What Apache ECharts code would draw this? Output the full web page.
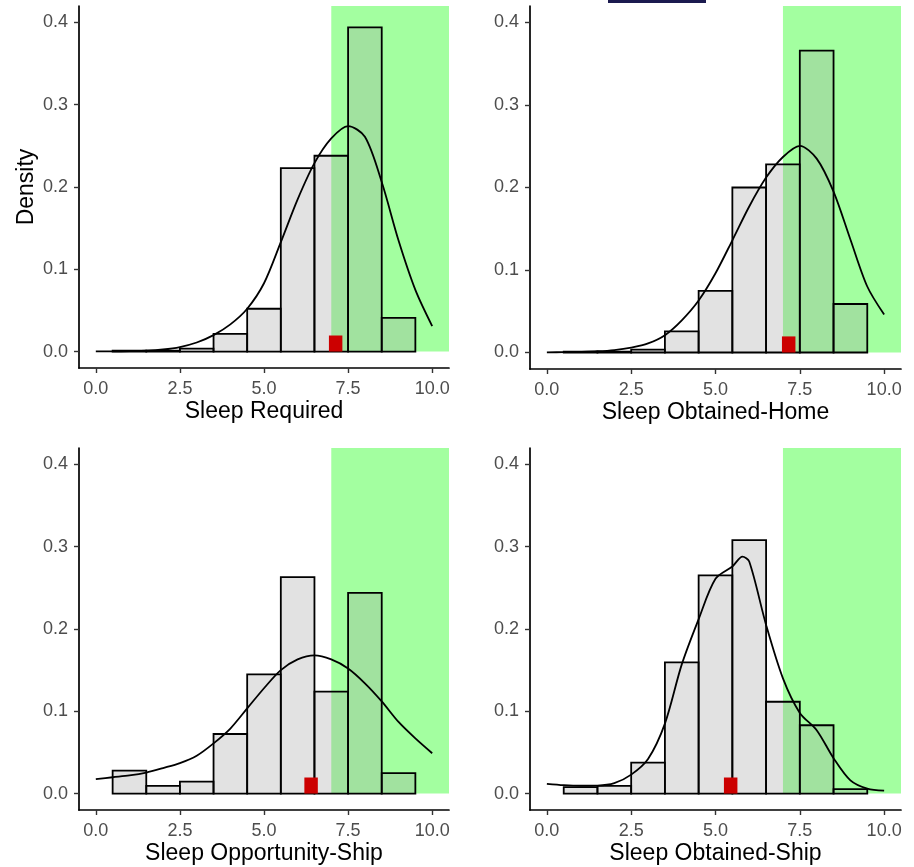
<!DOCTYPE html>
<html>
<head>
<meta charset="utf-8">
<script src="https://cdn.jsdelivr.net/npm/echarts@6/dist/echarts.min.js"></script>
<style>
html,body{margin:0;padding:0;background:#fff;}
#chart{width:914px;height:867px;}
</style>
</head>
<body>
<div id="chart"></div>
<script>
// ---------- DATA ----------
const panelTitles = ['Sleep Required', 'Sleep Obtained-Home', 'Sleep Opportunity-Ship', 'Sleep Obtained-Ship'];
const binCenters = [1, 2, 3, 4, 5, 6, 7, 8, 9];
const binWidth = 1;

const barsRequired      = [0.001, 0.001, 0.0036, 0.0215, 0.052, 0.223, 0.238, 0.394, 0.041];
const barsObtainedHome  = [0.001, 0.001, 0.0036, 0.0255, 0.0746, 0.200, 0.228, 0.366, 0.0588];
const barsOpportunityShip = [0.0279, 0.0093, 0.0146, 0.0724, 0.1448, 0.263, 0.1238, 0.2439, 0.0247];
const barsObtainedShip  = [0.0078, 0.0093, 0.0376, 0.1594, 0.2653, 0.308, 0.1116, 0.083, 0.0053];

const curveX = [0, 0.5, 1, 1.5, 2, 2.5, 3, 3.5, 4, 4.5, 5, 5.5, 6, 6.5, 7, 7.5, 8, 8.5, 9, 9.5, 10];
const curveRequired     = [0.0001, 0.0002, 0.0005, 0.001, 0.0025, 0.0055, 0.011, 0.020, 0.033, 0.052, 0.083, 0.133, 0.185, 0.229, 0.259, 0.274, 0.261, 0.206, 0.135, 0.075, 0.031];
const curveObtainedHome = [0.0002, 0.0004, 0.0008, 0.0015, 0.003, 0.006, 0.011, 0.021, 0.039, 0.063, 0.096, 0.136, 0.177, 0.212, 0.237, 0.2505, 0.235, 0.195, 0.137, 0.080, 0.046];
const curveOpportunityShip = [0.0174, 0.0198, 0.022, 0.0255, 0.031, 0.037, 0.046, 0.061, 0.079, 0.1035, 0.128, 0.150, 0.163, 0.168, 0.163, 0.152, 0.134, 0.112, 0.087, 0.067, 0.049];
const curveXObtainedShip = [0, 0.5, 1, 1.5, 2, 2.5, 3, 3.5, 4, 4.5, 5, 5.5, 5.8, 6, 6.5, 7, 7.5, 8, 8.5, 9, 9.5, 10];
const curveObtainedShip  = [0.0118, 0.0102, 0.0095, 0.0097, 0.0126, 0.023, 0.042, 0.085, 0.157, 0.212, 0.261, 0.276, 0.288, 0.282, 0.205, 0.140, 0.098, 0.077, 0.043, 0.016, 0.006, 0.0035];

const markerX = [7.13, 7.17, 6.40, 5.45];
const markerHalfWidth = 0.2;
const markerHeight = 0.0195;
const threshold = 7;

const xTicks = [0, 2.5, 5, 7.5, 10];
const yTicks = [0, 0.1, 0.2, 0.3, 0.4];
const xMin = -0.5, xMax = 10.5, yMin = -0.02, yMax = 0.42;

const panelBars = [barsRequired, barsObtainedHome, barsOpportunityShip, barsObtainedShip];
const panelCurveX = [curveX, curveX, curveX, curveXObtainedShip];
const panelCurveY = [curveRequired, curveObtainedHome, curveOpportunityShip, curveObtainedShip];

// ---------- LAYOUT ----------
const grids = [
  {left: 79, top: 6, width: 370, height: 362},
  {left: 530, top: 6, width: 371, height: 363},
  {left: 79, top: 448, width: 370, height: 362},
  {left: 530, top: 448, width: 371, height: 362}
];

const FONT = 'Liberation Sans, Arial, sans-serif';
const chart = echarts.init(document.getElementById('chart'), null, {renderer: 'canvas'});

const xAxes = [], yAxes = [], series = [];
for (let i = 0; i < 4; i++) {
  xAxes.push({
    gridIndex: i, type: 'value', min: xMin, max: xMax,
    name: panelTitles[i], nameLocation: 'middle', nameGap: 32,
    nameTextStyle: {fontSize: 23, color: '#000', fontFamily: FONT},
    axisLine: {show: true, onZero: false, lineStyle: {color: '#000', width: 1.7}},
    axisTick: {show: true, length: 5, customValues: xTicks, lineStyle: {color: '#333', width: 1.4}},
    axisLabel: {customValues: xTicks, margin: 12, fontSize: 18, color: '#4d4d4d', fontFamily: FONT,
      formatter: v => Number(v).toFixed(1)},
    splitLine: {show: false}
  });
  yAxes.push({
    gridIndex: i, type: 'value', min: yMin, max: yMax,
    name: i === 0 ? 'Density' : '', nameLocation: 'middle', nameGap: 41, nameRotate: 90,
    nameTextStyle: {fontSize: 23, color: '#000', fontFamily: FONT},
    axisLine: {show: true, onZero: false, lineStyle: {color: '#000', width: 1.7}},
    axisTick: {show: true, length: 5, customValues: yTicks, lineStyle: {color: '#333', width: 1.4}},
    axisLabel: {customValues: yTicks, margin: 11, fontSize: 18, color: '#4d4d4d', fontFamily: FONT,
      formatter: v => Number(v).toFixed(1)},
    splitLine: {show: false}
  });

  // green region
  series.push({
    type: 'custom', xAxisIndex: i, yAxisIndex: i, z: 1, silent: true,
    data: [[threshold, yMax]],
    renderItem: function (params, api) {
      const p0 = api.coord([api.value(0), 0]);
      const p1 = api.coord([xMax, api.value(1)]);
      return {type: 'rect', shape: {x: p0[0], y: p1[1], width: p1[0] - p0[0], height: p0[1] - p1[1]},
        style: {fill: 'rgb(163,255,160)'}};
    }
  });
  // histogram bars
  series.push({
    type: 'custom', xAxisIndex: i, yAxisIndex: i, z: 2, silent: true,
    data: binCenters.map((c, k) => [c, panelBars[i][k]]),
    renderItem: function (params, api) {
      const c = api.value(0), v = api.value(1);
      const p0 = api.coord([c - binWidth / 2, 0]);
      const p1 = api.coord([c + binWidth / 2, v]);
      return {type: 'rect', shape: {x: p0[0], y: p1[1], width: p1[0] - p0[0], height: p0[1] - p1[1]},
        style: {fill: 'rgba(160,160,160,0.3)', stroke: '#000', lineWidth: 1.8}};
    }
  });
  // density curve
  series.push({
    type: 'line', xAxisIndex: i, yAxisIndex: i, z: 3, silent: true,
    data: panelCurveX[i].map((x, k) => [x, panelCurveY[i][k]]),
    showSymbol: false, smooth: 0.3,
    lineStyle: {color: '#000', width: 1.8}
  });
  // red marker
  series.push({
    type: 'custom', xAxisIndex: i, yAxisIndex: i, z: 4, silent: true,
    data: [[markerX[i], markerHeight]],
    renderItem: function (params, api) {
      const x = api.value(0);
      const p0 = api.coord([x - markerHalfWidth, 0]);
      const p1 = api.coord([x + markerHalfWidth, api.value(1)]);
      return {type: 'rect', shape: {x: p0[0], y: p1[1], width: p1[0] - p0[0], height: p0[1] - p1[1]},
        style: {fill: '#cc0000'}};
    }
  });
}

chart.setOption({
  backgroundColor: '#fff',
  animation: false,
  grid: grids,
  xAxis: xAxes,
  yAxis: yAxes,
  series: series,
  graphic: [
    {type: 'rect', shape: {x: 608, y: 0, width: 98, height: 3}, style: {fill: '#1b1a4f'}, z: 100},
    {type: 'rect', shape: {x: 902, y: 0, width: 12, height: 867}, style: {fill: '#fff'}, z: 100}
  ]
});
</script>
</body>
</html>
